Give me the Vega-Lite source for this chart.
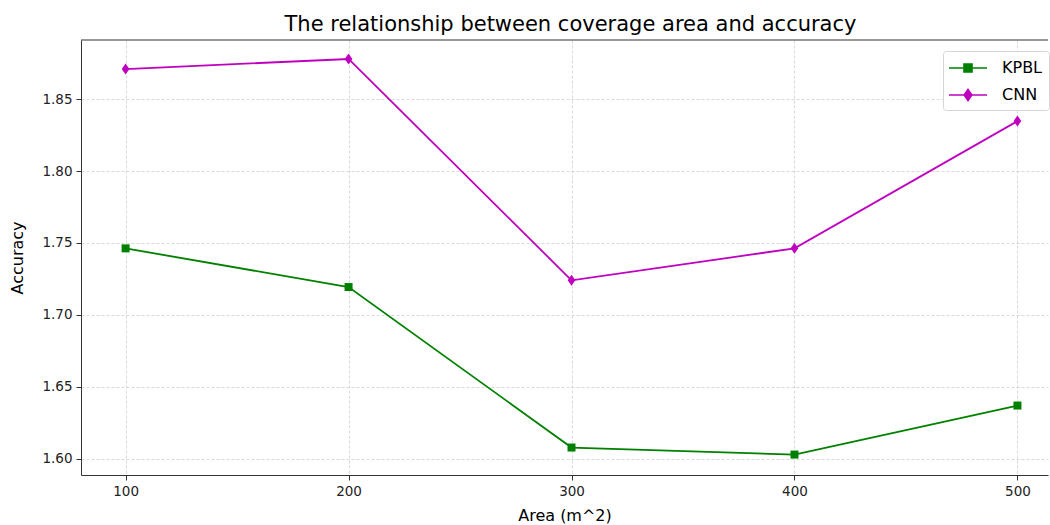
{
  "$schema": "https://vega.github.io/schema/vega-lite/v6.json",
  "width": 967,
  "height": 435,
  "autosize": {"type": "none"},
  "padding": {"left": 81, "top": 40, "right": 2, "bottom": 50},
  "background": "white",
  "title": {
    "text": "The relationship between coverage area and accuracy",
    "font": "DejaVu Sans",
    "fontSize": 21,
    "fontWeight": "normal",
    "color": "#000000",
    "dx": 6,
    "offset": 5
  },
  "config": {
    "view": {"stroke": null},
    "font": "DejaVu Sans",
    "axis": {
      "labelFont": "DejaVu Sans",
      "labelFontSize": 13.5,
      "labelColor": "#222222",
      "titleFont": "DejaVu Sans",
      "titleFontSize": 16,
      "titleFontWeight": "normal",
      "titleColor": "#000000",
      "domainColor": "#333333",
      "domainWidth": 1,
      "tickColor": "#333333",
      "tickSize": 5,
      "tickWidth": 1,
      "labelPadding": 4,
      "grid": true,
      "gridColor": "#cfcfcf",
      "gridDash": [3, 2],
      "gridWidth": 0.8
    }
  },
  "datasets": {
    "main": [
      {"area": 100, "model": "KPBL", "accuracy": 1.7462},
      {"area": 200, "model": "KPBL", "accuracy": 1.7193},
      {"area": 300, "model": "KPBL", "accuracy": 1.6077},
      {"area": 400, "model": "KPBL", "accuracy": 1.6028},
      {"area": 500, "model": "KPBL", "accuracy": 1.6369},
      {"area": 100, "model": "CNN", "accuracy": 1.8709},
      {"area": 200, "model": "CNN", "accuracy": 1.8779},
      {"area": 300, "model": "CNN", "accuracy": 1.724},
      {"area": 400, "model": "CNN", "accuracy": 1.7462},
      {"area": 500, "model": "CNN", "accuracy": 1.8347}
    ],
    "frame": [
      {"top": 1.8911}
    ]
  },
  "layer": [
    {
      "data": {"name": "frame"},
      "mark": {"type": "rule", "color": "#333333", "strokeWidth": 1},
      "encoding": {
        "y": {"field": "top", "type": "quantitative"}
      }
    },
    {
      "data": {"name": "main"},
      "encoding": {
        "x": {
          "field": "area",
          "type": "quantitative",
          "scale": {"domain": [80, 513.7], "nice": false, "zero": false},
          "axis": {"values": [100, 200, 300, 400, 500], "title": "Area (m^2)", "titlePadding": 10}
        },
        "y": {
          "field": "accuracy",
          "type": "quantitative",
          "scale": {"domain": [1.5886, 1.8911], "nice": false, "zero": false},
          "axis": {"values": [1.6, 1.65, 1.7, 1.75, 1.8, 1.85], "format": ".2f", "title": "Accuracy", "titlePadding": 16}
        },
        "color": {
          "field": "model",
          "type": "nominal",
          "scale": {"domain": ["KPBL", "CNN"], "range": ["#008000", "#bf00bf"]},
          "legend": {
            "title": null,
            "orient": "none",
            "legendX": 862,
            "legendY": 11,
            "padding": 6,
            "symbolOffset": 8,
            "symbolSize": 400,
            "labelOffset": 23,
            "rowPadding": 8,
            "labelFont": "DejaVu Sans",
            "labelFontSize": 16,
            "labelColor": "#000000",
            "strokeColor": "#d5d5d5",
            "cornerRadius": 3,
            "fillColor": "rgba(255,255,255,0.85)",
            "encode": {
              "symbols": {
                "update": {
                  "shape": {"signal": "datum.value === 'KPBL' ? 'M-1.9,0H1.9M-0.4,-0.4H0.4V0.4H-0.4Z' : 'M-1.9,0H1.9M0,-0.55L0.38,0L0,0.55L-0.38,0Z'"},
                  "fill": {"signal": "datum.value === 'KPBL' ? '#008000' : '#bf00bf'"},
                  "stroke": {"signal": "datum.value === 'KPBL' ? '#008000' : '#bf00bf'"},
                  "strokeWidth": {"value": 1.6},
                  "opacity": {"value": 1},
                  "fillOpacity": {"value": 1},
                  "strokeOpacity": {"value": 1}
                }
              }
            }
          }
        }
      },
      "layer": [
        {
          "mark": {"type": "line", "strokeWidth": 1.8}
        },
        {
          "transform": [{"filter": "datum.model === 'KPBL'"}],
          "mark": {"type": "point", "shape": "square", "filled": true, "size": 64, "opacity": 1}
        },
        {
          "transform": [{"filter": "datum.model === 'CNN'"}],
          "mark": {"type": "point", "shape": "M0,-1L0.7,0L0,1L-0.7,0Z", "filled": true, "size": 121, "opacity": 1}
        }
      ]
    }
  ]
}
